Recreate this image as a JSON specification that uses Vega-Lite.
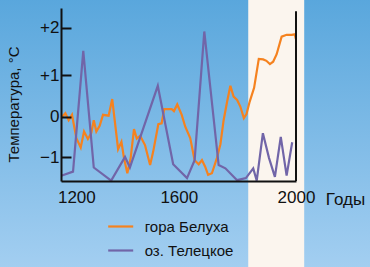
{
  "$schema": "https://vega.github.io/schema/vega-lite/v6.json",
  "width": 235,
  "height": 173,
  "autosize": {"type": "none"},
  "padding": {"left": 61, "top": 8, "right": 74, "bottom": 86},
  "background": "#7fbbe6",
  "config": {
    "view": {"stroke": null},
    "font": "Liberation Sans, Arial, sans-serif"
  },
  "datasets": {
    "series": [
      {"year": 1141, "temp": -0.03, "series": "гора Белуха"},
      {"year": 1157, "temp": 0.08, "series": "гора Белуха"},
      {"year": 1170, "temp": -0.09, "series": "гора Белуха"},
      {"year": 1183, "temp": 0.04, "series": "гора Белуха"},
      {"year": 1200, "temp": -0.53, "series": "гора Белуха"},
      {"year": 1217, "temp": -0.76, "series": "гора Белуха"},
      {"year": 1230, "temp": -0.37, "series": "гора Белуха"},
      {"year": 1245, "temp": -0.55, "series": "гора Белуха"},
      {"year": 1258, "temp": -0.41, "series": "гора Белуха"},
      {"year": 1268, "temp": -0.09, "series": "гора Белуха"},
      {"year": 1278, "temp": -0.37, "series": "гора Белуха"},
      {"year": 1291, "temp": -0.23, "series": "гора Белуха"},
      {"year": 1304, "temp": 0.04, "series": "гора Белуха"},
      {"year": 1326, "temp": 0.02, "series": "гора Белуха"},
      {"year": 1340, "temp": 0.42, "series": "гора Белуха"},
      {"year": 1363, "temp": -0.80, "series": "гора Белуха"},
      {"year": 1376, "temp": -0.62, "series": "гора Белуха"},
      {"year": 1386, "temp": -1.02, "series": "гора Белуха"},
      {"year": 1399, "temp": -1.39, "series": "гора Белуха"},
      {"year": 1412, "temp": -1.02, "series": "гора Белуха"},
      {"year": 1425, "temp": -0.31, "series": "гора Белуха"},
      {"year": 1436, "temp": -0.54, "series": "гора Белуха"},
      {"year": 1449, "temp": -0.47, "series": "гора Белуха"},
      {"year": 1468, "temp": -0.70, "series": "гора Белуха"},
      {"year": 1488, "temp": -1.19, "series": "гора Белуха"},
      {"year": 1500, "temp": -0.86, "series": "гора Белуха"},
      {"year": 1520, "temp": -0.19, "series": "гора Белуха"},
      {"year": 1533, "temp": -0.17, "series": "гора Белуха"},
      {"year": 1543, "temp": 0.18, "series": "гора Белуха"},
      {"year": 1572, "temp": 0.18, "series": "гора Белуха"},
      {"year": 1581, "temp": 0.13, "series": "гора Белуха"},
      {"year": 1594, "temp": 0.29, "series": "гора Белуха"},
      {"year": 1610, "temp": 0.04, "series": "гора Белуха"},
      {"year": 1622, "temp": -0.25, "series": "гора Белуха"},
      {"year": 1639, "temp": -0.53, "series": "гора Белуха"},
      {"year": 1654, "temp": -1.07, "series": "гора Белуха"},
      {"year": 1668, "temp": -1.17, "series": "гора Белуха"},
      {"year": 1679, "temp": -1.07, "series": "гора Белуха"},
      {"year": 1690, "temp": -1.23, "series": "гора Белуха"},
      {"year": 1700, "temp": -1.43, "series": "гора Белуха"},
      {"year": 1713, "temp": -1.39, "series": "гора Белуха"},
      {"year": 1730, "temp": -1.02, "series": "гора Белуха"},
      {"year": 1742, "temp": -0.68, "series": "гора Белуха"},
      {"year": 1753, "temp": -0.09, "series": "гора Белуха"},
      {"year": 1765, "temp": 0.36, "series": "гора Белуха"},
      {"year": 1776, "temp": 0.74, "series": "гора Белуха"},
      {"year": 1787, "temp": 0.48, "series": "гора Белуха"},
      {"year": 1799, "temp": 0.40, "series": "гора Белуха"},
      {"year": 1810, "temp": 0.24, "series": "гора Белуха"},
      {"year": 1822, "temp": -0.04, "series": "гора Белуха"},
      {"year": 1831, "temp": 0.06, "series": "гора Белуха"},
      {"year": 1842, "temp": 0.36, "series": "гора Белуха"},
      {"year": 1857, "temp": 0.69, "series": "гора Белуха"},
      {"year": 1873, "temp": 1.34, "series": "гора Белуха"},
      {"year": 1888, "temp": 1.33, "series": "гора Белуха"},
      {"year": 1899, "temp": 1.30, "series": "гора Белуха"},
      {"year": 1911, "temp": 1.23, "series": "гора Белуха"},
      {"year": 1922, "temp": 1.28, "series": "гора Белуха"},
      {"year": 1934, "temp": 1.44, "series": "гора Белуха"},
      {"year": 1951, "temp": 1.81, "series": "гора Белуха"},
      {"year": 1968, "temp": 1.85, "series": "гора Белуха"},
      {"year": 1985, "temp": 1.85, "series": "гора Белуха"},
      {"year": 1996, "temp": 1.86, "series": "гора Белуха"},
      {"year": 1999.5, "temp": 1.76, "series": "гора Белуха"},
      {"year": 1141, "temp": -1.45, "series": "оз. Телецкое"},
      {"year": 1187, "temp": -1.35, "series": "оз. Телецкое"},
      {"year": 1227, "temp": 1.51, "series": "оз. Телецкое"},
      {"year": 1268, "temp": -1.25, "series": "оз. Телецкое"},
      {"year": 1336, "temp": -1.57, "series": "оз. Телецкое"},
      {"year": 1390, "temp": -0.99, "series": "оз. Телецкое"},
      {"year": 1409, "temp": -1.25, "series": "оз. Телецкое"},
      {"year": 1518, "temp": 0.74, "series": "оз. Телецкое"},
      {"year": 1578, "temp": -1.17, "series": "оз. Телецкое"},
      {"year": 1628, "temp": -1.51, "series": "оз. Телецкое"},
      {"year": 1654, "temp": -1.07, "series": "оз. Телецкое"},
      {"year": 1687, "temp": 1.92, "series": "оз. Телецкое"},
      {"year": 1736, "temp": -1.19, "series": "оз. Телецкое"},
      {"year": 1759, "temp": -1.27, "series": "оз. Телецкое"},
      {"year": 1799, "temp": -1.56, "series": "оз. Телецкое"},
      {"year": 1829, "temp": -1.51, "series": "оз. Телецкое"},
      {"year": 1854, "temp": -1.27, "series": "оз. Телецкое"},
      {"year": 1866, "temp": -1.57, "series": "оз. Телецкое"},
      {"year": 1887, "temp": -0.41, "series": "оз. Телецкое"},
      {"year": 1908, "temp": -1.02, "series": "оз. Телецкое"},
      {"year": 1928, "temp": -1.48, "series": "оз. Телецкое"},
      {"year": 1948, "temp": -0.50, "series": "оз. Телецкое"},
      {"year": 1968, "temp": -1.45, "series": "оз. Телецкое"},
      {"year": 1987, "temp": -0.63, "series": "оз. Телецкое"}
    ]
  },
  "layer": [
    {
      "data": {"values": [{}]},
      "mark": {
        "type": "rect",
        "clip": false,
        "color": {
          "gradient": "linear", "x1": 0, "y1": 0, "x2": 0, "y2": 1,
          "stops": [
            {"offset": 0, "color": "#58a6dc"},
            {"offset": 1, "color": "#a4cff1"}
          ]
        }
      },
      "encoding": {
        "x": {"datum": 800, "type": "quantitative", "scale": {"domain": [1140, 1600, 2000], "range": [0, 117.8, 235]}},
        "x2": {"datum": 2400},
        "y": {"datum": -3.8, "type": "quantitative", "scale": {"domain": [-1.58, -1, 0, 1, 2, 2.42], "range": [173, 149.3, 108.5, 67, 19.7, 0]}},
        "y2": {"datum": 2.7}
      }
    },
    {
      "data": {"values": [{}]},
      "mark": {"type": "rect", "clip": false, "color": "#fbf5ee"},
      "encoding": {
        "x": {"datum": 1837, "type": "quantitative", "scale": {"domain": [1140, 1600, 2000], "range": [0, 117.8, 235]}},
        "x2": {"datum": 2028},
        "y": {"datum": -3.8, "type": "quantitative", "scale": {"domain": [-1.58, -1, 0, 1, 2, 2.42], "range": [173, 149.3, 108.5, 67, 19.7, 0]}},
        "y2": {"datum": 2.7}
      }
    },
    {
      "data": {"name": "series"},
      "mark": {"type": "line", "strokeWidth": 2.2, "clip": false},
      "encoding": {
        "x": {
          "field": "year", "type": "quantitative",
          "scale": {"domain": [1140, 1600, 2000], "range": [0, 117.8, 235]},
          "axis": {
            "values": [1200, 1600, 2000],
            "format": "d",
            "ticks": false,
            "grid": false,
            "domainColor": "#111111",
            "domainWidth": 2,
            "labelFontSize": 17,
            "labelColor": "#111111",
            "labelPadding": 8,
            "labelFlush": false,
            "labelOverlap": false,
            "title": "Годы",
            "titleFontSize": 17,
            "titleFontWeight": "normal",
            "titleColor": "#111111",
            "titleX": 284,
            "titleY": 18,
            "titleAlign": "center",
            "titleBaseline": "middle",
            "zindex": 1
          }
        },
        "y": {
          "field": "temp", "type": "quantitative",
          "scale": {"domain": [-1.58, -1, 0, 1, 2, 2.42], "range": [173, 149.3, 108.5, 67, 19.7, 0]},
          "axis": {
            "values": [-1, 0, 1, 2],
            "labelExpr": "datum.value > 0 ? '+' + datum.value : (datum.value < 0 ? '−' + abs(datum.value) : '0')",
            "grid": false,
            "tickSize": -10,
            "tickWidth": 2,
            "tickColor": "#111111",
            "domainColor": "#111111",
            "domainWidth": 2,
            "labelFontSize": 17,
            "labelColor": "#111111",
            "labelPadding": 12,
            "labelFlush": false,
            "labelOverlap": false,
            "title": "Температура, °C",
            "titleFontSize": 15,
            "titleFontWeight": "normal",
            "titleColor": "#111111",
            "titleAngle": 270,
            "titleX": -48,
            "titleY": 96,
            "titleAlign": "center",
            "titleBaseline": "middle",
            "zindex": 1
          }
        },
        "color": {
          "field": "series", "type": "nominal",
          "scale": {"domain": ["гора Белуха", "оз. Телецкое"], "range": ["#f5821f", "#7165a8"]},
          "legend": {
            "orient": "none",
            "legendX": 45.7,
            "legendY": 204.5,
            "title": null,
            "symbolType": "stroke",
            "symbolSize": 625,
            "symbolStrokeWidth": 2.2,
            "labelFontSize": 15,
            "labelColor": "#111111",
            "labelOffset": 10,
            "rowPadding": 2
          }
        }
      }
    },
    {
      "data": {"values": [{}]},
      "mark": {"type": "rule", "color": "#111111", "strokeWidth": 2, "clip": false},
      "encoding": {
        "x": {"datum": 2000, "type": "quantitative", "scale": {"domain": [1140, 1600, 2000], "range": [0, 117.8, 235]}},
        "y": {"datum": -1.58, "type": "quantitative", "scale": {"domain": [-1.58, -1, 0, 1, 2, 2.42], "range": [173, 149.3, 108.5, 67, 19.7, 0]}},
        "y2": {"datum": 2.35}
      }
    }
  ]
}
